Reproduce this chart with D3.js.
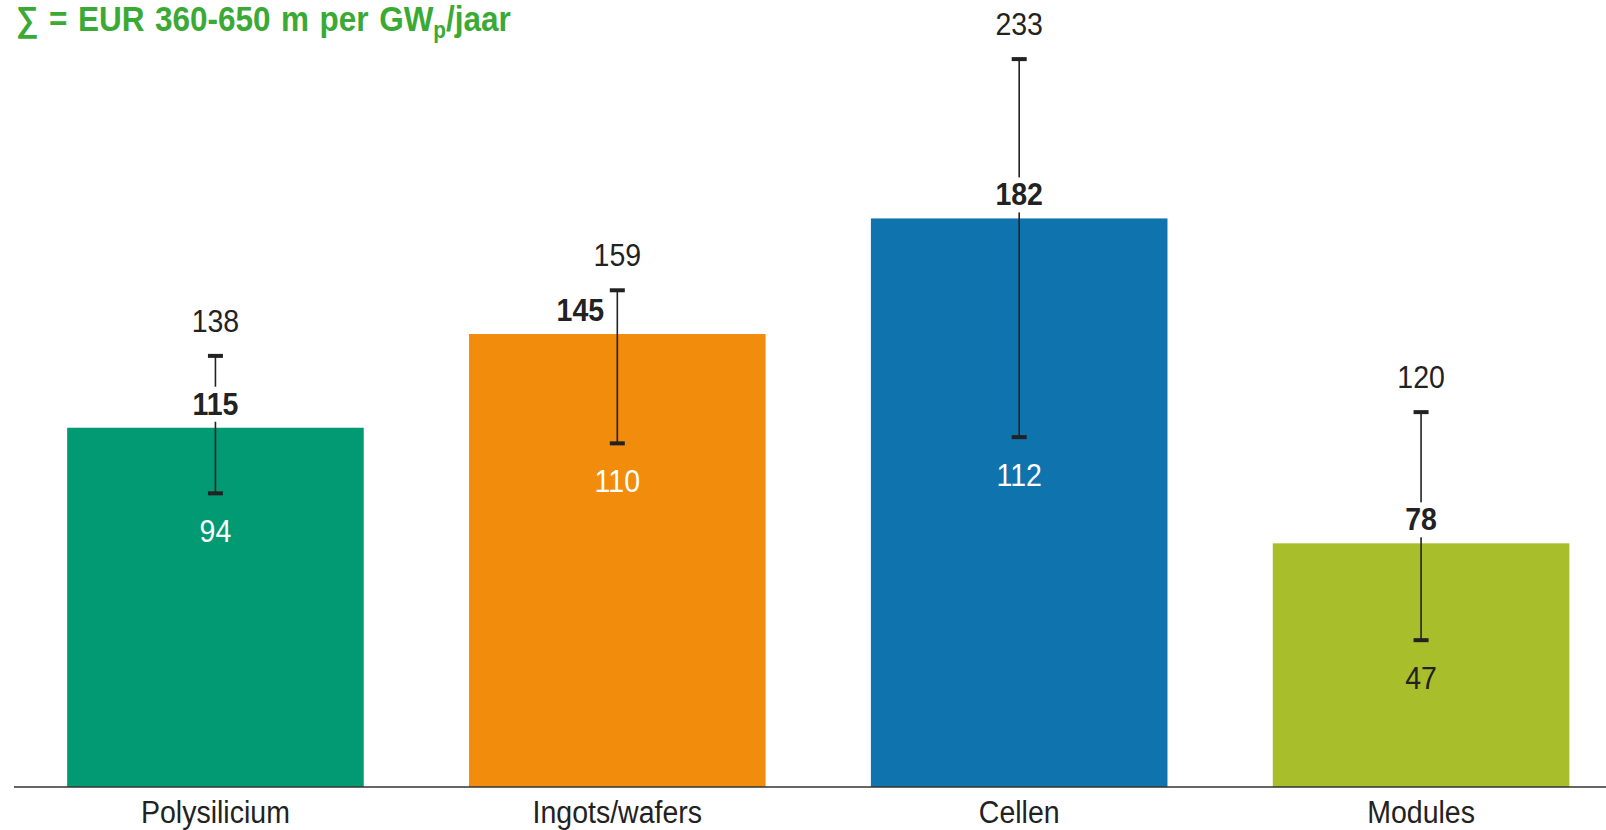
<!DOCTYPE html>
<html>
<head>
<meta charset="utf-8">
<script src="https://cdn.jsdelivr.net/npm/d3@7"></script>
<style>
  body { margin: 0; background: #fff; }
  svg { display: block; font-family: "Liberation Sans", Arial, sans-serif; }
</style>
</head>
<body>
<div id="chart"></div>
<script>
// Chart data
var categories = ["Polysilicium", "Ingots/wafers", "Cellen", "Modules"];
var midValues = [115, 145, 182, 78];
var lowValues = [94, 110, 112, 47];
var highValues = [138, 159, 233, 120];

// Styles
var barColors = ["#029a72", "#f28c0d", "#0f73ae", "#a8be2a"];
var lowLabelColors = ["#ffffff", "#ffffff", "#ffffff", "#222222"];
var midLabelShift = [0, -37, 0, 0]; // 145 sits left of its error bar

var width = 1606, height = 830;
var baseline = 787;
var condense = 0.92;

var svg = d3.select("#chart").append("svg")
    .attr("width", width)
    .attr("height", height);

// Scales
var x = d3.scaleBand()
    .domain(categories)
    .range([14.5, 1622])
    .paddingInner(0.262)
    .paddingOuter(0.131);

var y = d3.scaleLinear()
    .domain([0, 250])
    .range([baseline, baseline - 781]);

var data = categories.map(function(c, i) {
  return {
    name: c,
    mid: midValues[i],
    low: lowValues[i],
    high: highValues[i],
    color: barColors[i],
    lowColor: lowLabelColors[i],
    shift: midLabelShift[i]
  };
});

function cx(d) { return x(d.name) + x.bandwidth() / 2; }

// Bars
svg.append("g").selectAll("rect")
    .data(data)
  .enter().append("rect")
    .attr("x", function(d) { return x(d.name); })
    .attr("y", function(d) { return y(d.mid); })
    .attr("width", x.bandwidth())
    .attr("height", function(d) { return baseline - y(d.mid); })
    .attr("fill", function(d) { return d.color; });

// Error bars
var err = svg.append("g").attr("class", "errors");
err.selectAll("line.stem")
    .data(data)
  .enter().append("line")
    .attr("class", "stem")
    .attr("x1", cx).attr("x2", cx)
    .attr("y1", function(d) { return y(d.high); })
    .attr("y2", function(d) { return y(d.low); })
    .attr("stroke", "#222")
    .attr("stroke-width", 1.6);

["high", "low"].forEach(function(k) {
  err.selectAll("rect.cap-" + k)
      .data(data)
    .enter().append("rect")
      .attr("class", "cap-" + k)
      .attr("x", function(d) { return cx(d) - 7.5; })
      .attr("y", function(d) { return y(d[k]) - 2; })
      .attr("width", 15)
      .attr("height", 4)
      .attr("fill", "#222");
});

// Knockout boxes behind the bold value labels (only where they sit on the stem)
svg.append("g").selectAll("rect")
    .data(data.filter(function(d) { return d.shift === 0; }))
  .enter().append("rect")
    .attr("x", function(d) { return cx(d) - 28; })
    .attr("y", function(d) { return y(d.mid) - 13 - 28; })
    .attr("width", 56)
    .attr("height", 35)
    .attr("fill", "#fff");

function label(g, cls, getX, getY, getText) {
  return g.selectAll("text." + cls)
      .data(data)
    .enter().append("text")
      .attr("class", cls)
      .attr("text-anchor", "middle")
      .attr("font-size", 31)
      .attr("transform", function(d) {
        return "translate(" + getX(d) + "," + getY(d) + ") scale(" + condense + ",1)";
      })
      .text(getText);
}

var labels = svg.append("g").attr("class", "labels");

label(labels, "high", cx, function(d) { return y(d.high) - 24; }, function(d) { return d.high; })
    .attr("fill", "#222");

label(labels, "mid", function(d) { return cx(d) + d.shift; },
    function(d) { return y(d.mid) - 13; }, function(d) { return d.mid; })
    .attr("fill", "#222")
    .attr("font-weight", "bold");

label(labels, "low", cx, function(d) { return y(d.low) + 49; }, function(d) { return d.low; })
    .attr("fill", function(d) { return d.lowColor; });

// Axis
var xAxis = d3.axisBottom(x).tickSize(0).tickPadding(0);
var axisG = svg.append("g")
    .attr("class", "axis axis--x")
    .attr("transform", "translate(0," + baseline + ")")
    .call(xAxis);

axisG.select(".domain").remove();
axisG.append("line")
    .attr("x1", 14).attr("x2", width)
    .attr("y1", 0).attr("y2", 0)
    .attr("stroke", "#333")
    .attr("stroke-width", 1.5);

axisG.selectAll(".tick text")
    .attr("font-family", "\"Liberation Sans\", Arial, sans-serif")
    .attr("font-size", 31)
    .attr("fill", "#222")
    .attr("dy", 0)
    .attr("y", 36)
    .attr("transform", "scale(" + condense + ",1)")
    .attr("x", 0);

// Title
var title = svg.append("text")
    .attr("transform", "translate(16,31) scale(0.9,1)")
    .attr("fill", "#3aaa35")
    .attr("font-weight", "bold")
    .attr("font-size", 35)
    .attr("word-spacing", 2);

title.append("tspan").text("\u2211 = EUR 360-650 m per GW");
title.append("tspan").attr("font-size", 23).attr("dy", 7).text("p");
title.append("tspan").attr("dy", -7).text("/jaar");
</script>
</body>
</html>
